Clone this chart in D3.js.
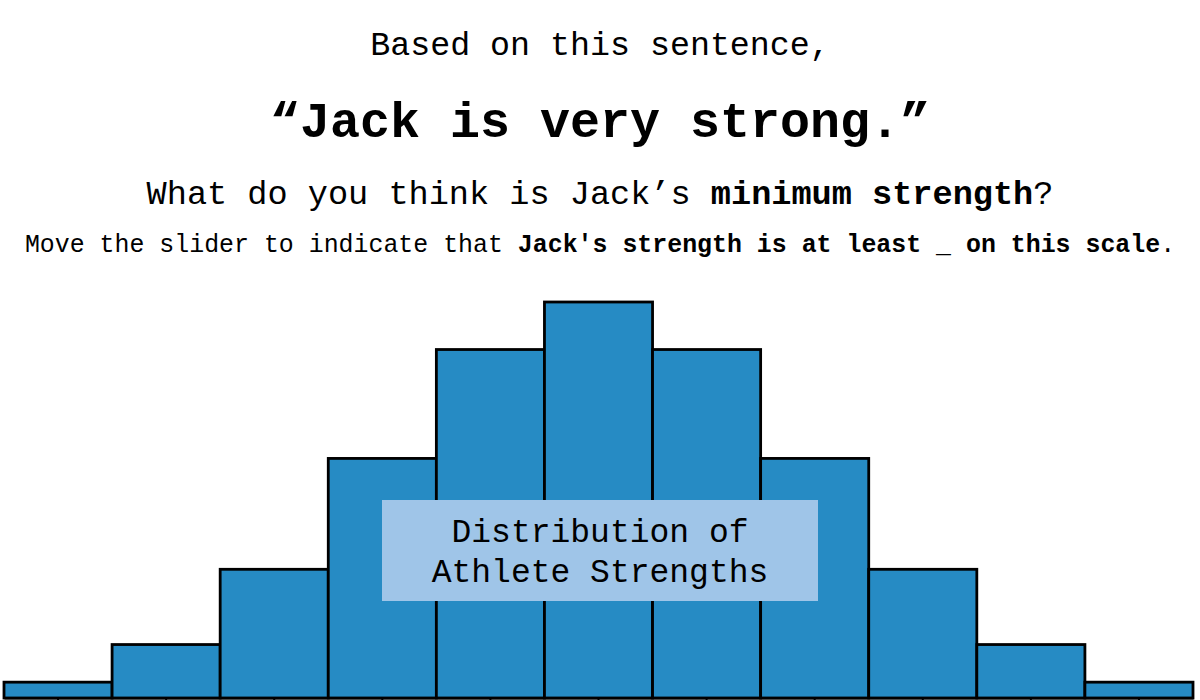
<!DOCTYPE html>
<html>
<head>
<meta charset="utf-8">
<script src="https://cdn.jsdelivr.net/npm/d3@7"></script>
<style>
  html, body { margin: 0; padding: 0; background: #fff; }
  svg { display: block; }
  text { font-family: "Liberation Mono", "DejaVu Sans Mono", monospace; fill: #000; }
</style>
</head>
<body>
<svg id="chart" width="1200" height="700"></svg>
<script>
// ---- data ----
const bins = ["1", "2", "3", "4", "5", "6", "7", "8", "9", "10", "11"];
const density = [0.04, 0.135, 0.325, 0.605, 0.88, 1.0, 0.88, 0.605, 0.325, 0.135, 0.04];
const boxLabel = ["Distribution of", "Athlete Strengths"];

const svg = d3.select("#chart");

// ---- headings ----
svg.append("text").attr("x", 600).attr("y", 55).attr("text-anchor", "middle")
  .style("font-size", "33.3px").text("Based on this sentence,");

svg.append("text").attr("x", 600).attr("y", 137).attr("text-anchor", "middle")
  .style("font-size", "50px").style("font-weight", "bold").text("\u201CJack is very strong.\u201D");

const q = svg.append("text").attr("x", 600).attr("y", 204).attr("text-anchor", "middle")
  .style("font-size", "33.6px");
q.append("tspan").text("What do you think is Jack\u2019s ");
q.append("tspan").style("font-weight", "bold").text("minimum strength");
q.append("tspan").text("?");

const m = svg.append("text").attr("x", 600).attr("y", 252).attr("text-anchor", "middle")
  .style("font-size", "24.9px");
m.append("tspan").text("Move the slider to indicate that ");
m.append("tspan").style("font-weight", "bold").text("Jack's strength is at least _ on this scale");
m.append("tspan").text(".");

// ---- scales ----
const x = d3.scaleBand().domain(bins).range([4, 1193]).padding(0);
const y = d3.scaleLinear().domain([0, 1]).range([698, 302]);

// ---- bars ----
svg.append("g").selectAll("rect")
  .data(bins.map((b, i) => ({ b, v: density[i] })))
  .join("rect")
  .attr("x", d => x(d.b))
  .attr("y", d => y(d.v))
  .attr("width", x.bandwidth())
  .attr("height", d => y(0) - y(d.v))
  .attr("fill", "#268bc4")
  .attr("stroke", "#000")
  .attr("stroke-width", 2.8);

// ---- axis ----
const ax = svg.append("g").attr("transform", "translate(0,698)")
  .call(d3.axisBottom(x).tickSize(6).tickSizeOuter(0).tickFormat(() => ""));
ax.select(".domain").attr("stroke", "#000").attr("stroke-width", 2);
ax.selectAll(".tick line").attr("stroke", "#000").attr("stroke-width", 2);

// ---- label box ----
svg.append("rect").attr("x", 382).attr("y", 500).attr("width", 436).attr("height", 101)
  .attr("fill", "#9fc5e8");
svg.append("g").selectAll("text").data(boxLabel).join("text")
  .attr("x", 600).attr("y", (d, i) => 542 + i * 40)
  .attr("text-anchor", "middle")
  .style("font-size", "33px")
  .text(d => d);
</script>
</body>
</html>
